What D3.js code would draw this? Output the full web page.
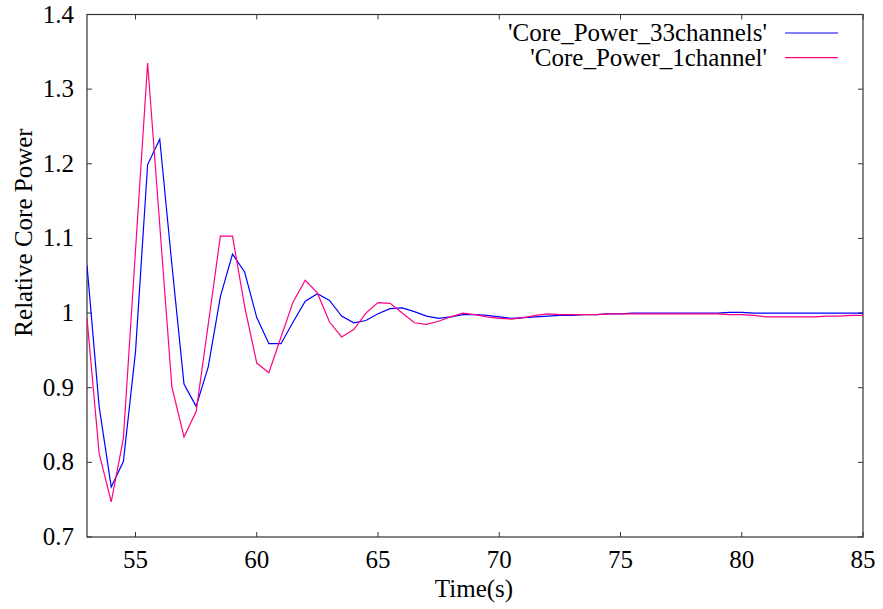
<!DOCTYPE html>
<html>
<head>
<script src="https://cdn.jsdelivr.net/npm/d3@7"></script>
</head>
<body style="margin:0">
<svg id="chart" width="883" height="609" style="display:block"></svg>
<script>
const timeStart = 53;
const timeStep = 0.5;
const seriesNames = ["'Core_Power_33channels'", "'Core_Power_1channel'"];
const seriesColors = ["#0000ff", "#ff0080"];
const power33 = [
  1.064, 0.875, 0.767, 0.801, 0.948, 1.199, 1.233, 1.065, 0.905, 0.875,
  0.928, 1.022, 1.079, 1.055, 0.994, 0.959, 0.959, 0.988, 1.016, 1.026,
  1.017, 0.996, 0.987, 0.990, 0.999, 1.006, 1.007, 1.002, 0.996, 0.993,
  0.995, 0.998, 0.998, 0.997, 0.995, 0.993, 0.994, 0.995, 0.996, 0.997,
  0.997, 0.998, 0.998, 0.999, 0.999, 1.000, 1.000, 1.000, 1.000, 1.000,
  1.000, 1.000, 1.000, 1.001, 1.001, 1.000, 1.000, 1.000, 1.000, 1.000,
  1.000, 1.000, 1.000, 1.000, 1.000
];
const power1 = [
  0.993, 0.812, 0.747, 0.832, 1.084, 1.335, 1.118, 0.901, 0.834, 0.868,
  0.985, 1.103, 1.103, 1.009, 0.933, 0.920, 0.968, 1.015, 1.044, 1.027,
  0.988, 0.968, 0.978, 1.000, 1.014, 1.013, 1.000, 0.987, 0.985, 0.989,
  0.995, 1.000, 0.998, 0.995, 0.993, 0.992, 0.994, 0.997, 0.999, 0.998,
  0.998, 0.998, 0.998, 0.999, 0.999, 0.999, 0.999, 0.999, 0.999, 0.999,
  0.999, 0.999, 0.999, 0.998, 0.998, 0.997, 0.995, 0.995, 0.995, 0.995,
  0.995, 0.996, 0.996, 0.997, 0.997
];
const xTicks = [55, 60, 65, 70, 75, 80, 85];
const yTicks = [0.7, 0.8, 0.9, 1.0, 1.1, 1.2, 1.3, 1.4];
const xLabel = "Time(s)";
const yLabel = "Relative Core Power";

const FONT = '"Times New Roman"';
const FS = "25px";
const svg = d3.select("#chart");
const L = 87, R = 863, T = 14.5, B = 537;
const x = d3.scaleLinear().domain([53, 85]).range([L, R]);
const y = d3.scaleLinear().domain([0.7, 1.4]).range([B, T]);
const frameColor = "#333";

function serif(sel) {
  return sel.style("font-family", FONT).style("font-size", FS);
}

// axes drawn by hand from the scales so no inherited font attributes interfere
const axes = svg.append("g");
xTicks.forEach(t => {
  axes.append("line").attr("x1", x(t)).attr("x2", x(t)).attr("y1", B).attr("y2", B - 5).attr("stroke", frameColor);
  axes.append("line").attr("x1", x(t)).attr("x2", x(t)).attr("y1", T).attr("y2", T + 5).attr("stroke", frameColor);
  serif(axes.append("text").attr("x", x(t)).attr("y", B + 31).attr("text-anchor", "middle").text(d3.format("d")(t)));
});
yTicks.forEach(t => {
  axes.append("line").attr("x1", L).attr("x2", L + 5).attr("y1", y(t)).attr("y2", y(t)).attr("stroke", frameColor);
  axes.append("line").attr("x1", R).attr("x2", R - 5).attr("y1", y(t)).attr("y2", y(t)).attr("stroke", frameColor);
  serif(axes.append("text").attr("x", L - 13).attr("y", y(t) + 8).attr("text-anchor", "end")
    .text(t === 1 ? "1" : d3.format(".1f")(t)));
});

svg.append("rect").attr("x", L).attr("y", T).attr("width", R - L).attr("height", B - T)
  .attr("fill", "none").attr("stroke", frameColor).attr("stroke-width", 1.2);

svg.append("defs").append("clipPath").attr("id", "clip")
  .append("rect").attr("x", L).attr("y", T).attr("width", R - L).attr("height", B - T);
const allSeries = [power33, power1];
const line = d3.line()
  .x((d, i) => x(timeStart + i * timeStep))
  .y(d => y(d));
const plot = svg.append("g").attr("clip-path", "url(#clip)");
allSeries.forEach((s, k) => {
  plot.append("path").datum(s)
    .attr("fill", "none")
    .attr("stroke", seriesColors[k])
    .attr("stroke-width", 1.2)
    .attr("d", line);
});

serif(svg.append("text").attr("x", 474).attr("y", 597).attr("text-anchor", "middle").text(xLabel));
serif(svg.append("text").attr("transform", "translate(32,232.5) rotate(-90)")
  .attr("text-anchor", "middle").text(yLabel));

seriesNames.forEach((name, k) => {
  const cy = 33 + k * 24.7;
  serif(svg.append("text").attr("x", 767).attr("y", cy + 8).attr("text-anchor", "end").text(name));
  svg.append("line").attr("x1", 785).attr("x2", 838).attr("y1", cy).attr("y2", cy)
    .attr("stroke", seriesColors[k]).attr("stroke-width", 1.2);
});
</script>
</body>
</html>
